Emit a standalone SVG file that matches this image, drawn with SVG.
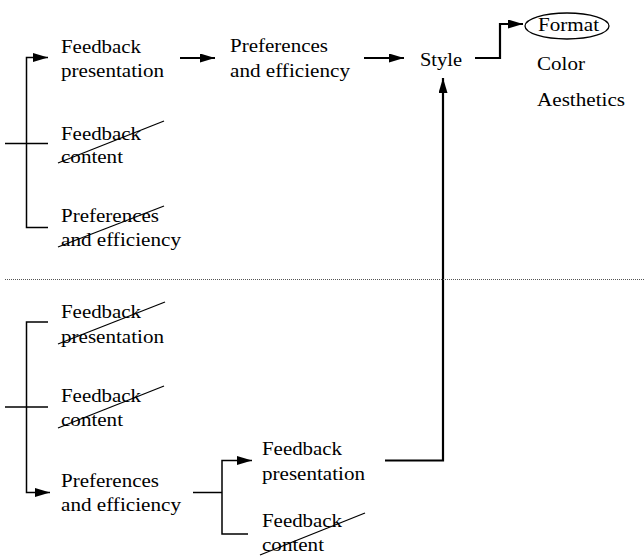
<svg xmlns="http://www.w3.org/2000/svg" width="644" height="559" viewBox="0 0 644 559">
  <defs>
    <marker id="arrow" viewBox="0 0 15 9" refX="15" refY="4.5" markerWidth="15" markerHeight="9" markerUnits="userSpaceOnUse" orient="auto">
      <path d="M0,0 L15,4.5 L0,9 Z" fill="#000"/>
    </marker>
  </defs>
  <style>
    .t text { font-family: "Liberation Serif", "Times New Roman", serif; font-size: 18px; fill: #000; }
    .ln { fill: none; stroke: #000; stroke-width: 1.5; }
    .bold { fill: none; stroke: #000; stroke-width: 2.2; }
    .strike { fill: none; stroke: #000; stroke-width: 1.3; }
    .sep { fill: none; stroke: #555; stroke-width: 1; stroke-dasharray: 1 1; }
  </style>
  <rect width="644" height="559" fill="#fff"/>

  <!-- connectors -->
  <g id="connectors">
    <!-- upper tree -->
    <path class="ln" d="M5,143.5 H48"/>
    <path class="ln" d="M48,227.5 H26.5 V57.5 H48" marker-end="url(#arrow)"/>
    <path class="bold" d="M180,58 H215" marker-end="url(#arrow)"/>
    <path class="bold" d="M364,58 H404" marker-end="url(#arrow)"/>
    <path class="bold" d="M475,58 H500 V24 H523" marker-end="url(#arrow)"/>
    <path class="bold" d="M385,460.5 H443 V78" marker-end="url(#arrow)"/>
    <!-- separator -->
    <path class="sep" d="M5,279.5 H644"/>
    <!-- lower tree -->
    <path class="ln" d="M5,407 H48"/>
    <path class="ln" d="M48,322 H26.5 V492.5 H50" marker-end="url(#arrow)"/>
    <path class="ln" d="M193,492.5 H222"/>
    <path class="ln" d="M248,534 H222 V460.5 H252" marker-end="url(#arrow)"/>
  </g>

  <!-- upper tree nodes -->
  <g id="fb-presentation-top" class="t">
    <text x="61" y="53" textLength="80" lengthAdjust="spacingAndGlyphs">Feedback</text>
    <text x="61" y="77" textLength="103" lengthAdjust="spacingAndGlyphs">presentation</text>
  </g>
  <g id="fb-content-top" class="t">
    <text x="61" y="140" textLength="80" lengthAdjust="spacingAndGlyphs">Feedback</text>
    <text x="61" y="163" textLength="62" lengthAdjust="spacingAndGlyphs">content</text>
    <path class="strike" d="M58,163 L164,121"/>
  </g>
  <g id="pref-eff-top" class="t">
    <text x="61" y="222" textLength="98" lengthAdjust="spacingAndGlyphs">Preferences</text>
    <text x="61" y="246" textLength="120" lengthAdjust="spacingAndGlyphs">and efficiency</text>
    <path class="strike" d="M58,247 L164,206"/>
  </g>
  <g id="pref-eff-mid" class="t">
    <text x="230" y="52" textLength="98" lengthAdjust="spacingAndGlyphs">Preferences</text>
    <text x="230" y="77" textLength="120" lengthAdjust="spacingAndGlyphs">and efficiency</text>
  </g>
  <g id="style" class="t">
    <text x="420" y="66" textLength="42" lengthAdjust="spacingAndGlyphs">Style</text>
  </g>
  <g id="format" class="t">
    <ellipse cx="567" cy="26" rx="42" ry="13" fill="none" stroke="#000" stroke-width="1.3"/>
    <text x="538" y="31" textLength="61" lengthAdjust="spacingAndGlyphs">Format</text>
  </g>
  <g id="color" class="t">
    <text x="537" y="70" textLength="48" lengthAdjust="spacingAndGlyphs">Color</text>
  </g>
  <g id="aesthetics" class="t">
    <text x="537" y="106" textLength="88" lengthAdjust="spacingAndGlyphs">Aesthetics</text>
  </g>

  <!-- lower tree nodes -->
  <g id="fb-presentation-low" class="t">
    <text x="61" y="318" textLength="80" lengthAdjust="spacingAndGlyphs">Feedback</text>
    <text x="61" y="343" textLength="103" lengthAdjust="spacingAndGlyphs">presentation</text>
    <path class="strike" d="M58,344 L165,302"/>
  </g>
  <g id="fb-content-low" class="t">
    <text x="61" y="402" textLength="80" lengthAdjust="spacingAndGlyphs">Feedback</text>
    <text x="61" y="426" textLength="62" lengthAdjust="spacingAndGlyphs">content</text>
    <path class="strike" d="M58,428 L164,386"/>
  </g>
  <g id="pref-eff-low" class="t">
    <text x="61" y="487" textLength="98" lengthAdjust="spacingAndGlyphs">Preferences</text>
    <text x="61" y="511" textLength="120" lengthAdjust="spacingAndGlyphs">and efficiency</text>
  </g>
  <g id="fb-presentation-sub" class="t">
    <text x="262" y="455" textLength="80" lengthAdjust="spacingAndGlyphs">Feedback</text>
    <text x="262" y="480" textLength="103" lengthAdjust="spacingAndGlyphs">presentation</text>
  </g>
  <g id="fb-content-sub" class="t">
    <text x="262" y="527" textLength="80" lengthAdjust="spacingAndGlyphs">Feedback</text>
    <text x="262" y="551" textLength="62" lengthAdjust="spacingAndGlyphs">content</text>
    <path class="strike" d="M260,555 L365,513"/>
  </g>
</svg>
